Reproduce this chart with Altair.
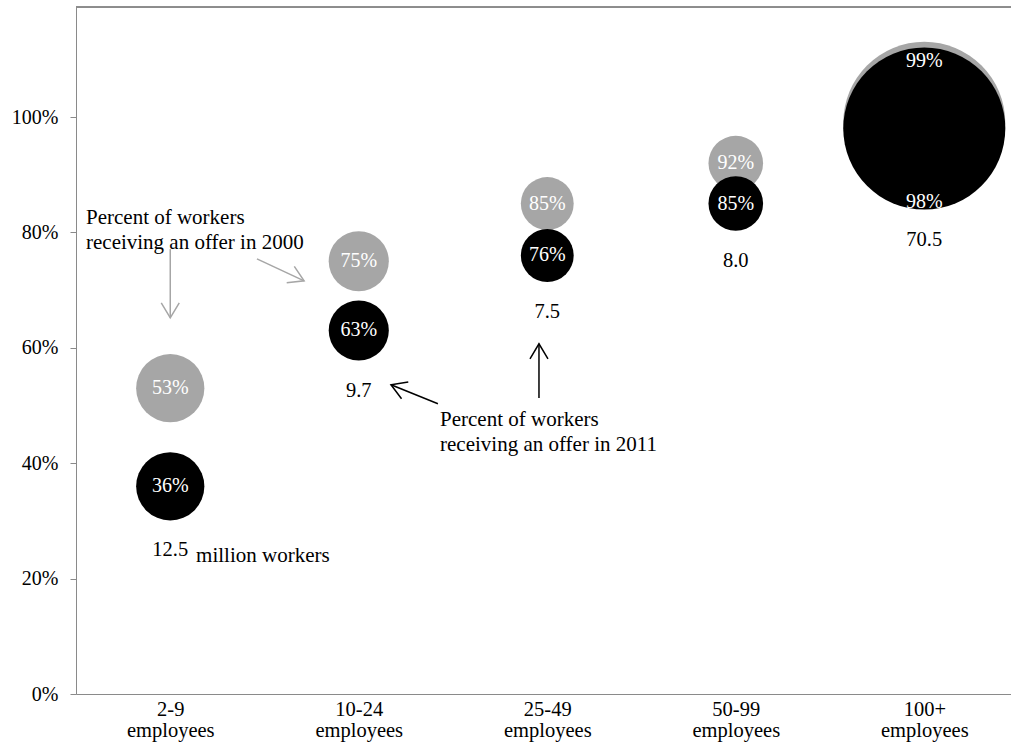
import json
import altair as alt
import pandas as pd

# ---- data ----
categories = ["2-9 employees", "10-24 employees", "25-49 employees", "50-99 employees", "100+ employees"]
pct_2000 = [0.53, 0.75, 0.85, 0.92, 0.99]
pct_2011 = [0.36, 0.63, 0.76, 0.85, 0.98]
workers_millions = [12.5, 9.7, 7.5, 8.0, 70.5]
y_ticks = [0, 0.2, 0.4, 0.6, 0.8, 1.0]

# annotation placement (in data units: x = category index, y = share)
note_2000_text = "Percent of workers\nreceiving an offer in 2000"
note_2000_pos = (-0.447, 0.825)
note_2011_text = "Percent of workers\nreceiving an offer in 2011"
note_2011_pos = (1.431, 0.475)
unit_text = "million workers"
unit_pos = (0.137, 0.239)

gray_arrows_x = [0.0, 0.460]
gray_arrows_y = [0.771, 0.754]
gray_arrows_x2 = [0.0, 0.710]
gray_arrows_y2 = [0.652, 0.716]
gray_arrows_angle = [180, 115]

black_arrows_x = [1.420, 1.956]
black_arrows_y = [0.503, 0.513]
black_arrows_x2 = [1.171, 1.956]
black_arrows_y2 = [0.536, 0.607]
black_arrows_angle = [292, 0]

# ---- styling ----
FONT = "Liberation Serif"
GRAY = "#a6a6a6"
AXIS_GRAY = "#8a8a8a"
W, H = 935, 687
PX_PER_UNIT = 577.0  # pixels per 100%
SIZE_PER_MILLION = 372.5  # Vega symbol size (diameter^2) per million workers

df = pd.DataFrame({
    "idx": list(range(len(categories))),
    "category": categories,
    "p2000": pct_2000,
    "p2011": pct_2011,
    "workers": workers_millions,
})

label_lines = json.dumps([c.split(" ") for c in categories])

x_scale = alt.Scale(domain=[-0.5, 4.46], nice=False, zero=False)
y_scale = alt.Scale(domain=[0, H / PX_PER_UNIT], nice=False, zero=True)
size_scale = alt.Scale(type="linear", domain=[0, max(workers_millions)],
                       range=[0, SIZE_PER_MILLION * max(workers_millions)])

x_axis = alt.Axis(values=list(range(len(categories))), labelExpr=f"{label_lines}[datum.value]",
                  title=None, ticks=False, grid=False, domainColor=AXIS_GRAY,
                  labelFont=FONT, labelFontSize=20.5, labelColor="black",
                  labelLineHeight=21, labelPadding=5, labelAngle=0)
y_axis = alt.Axis(values=y_ticks, format=".0%", title=None, grid=False,
                  domainColor=AXIS_GRAY, tickColor=AXIS_GRAY, tickSize=6,
                  labelFont=FONT, labelFontSize=20, labelColor="black", labelPadding=12)


def X(field):
    return alt.X(f"{field}:Q", scale=x_scale, axis=x_axis)


def Y(field):
    return alt.Y(f"{field}:Q", scale=y_scale, axis=y_axis)


base = alt.Chart(df)
size_enc = alt.Size("workers:Q", scale=size_scale, legend=None)

gray_circles = base.mark_circle(color=GRAY, opacity=1).encode(x=X("idx"), y=Y("p2000"), size=size_enc)
gray_labels = base.transform_filter("datum.idx < 4").mark_text(
    color="white", font=FONT, fontSize=20, baseline="middle").encode(
    x=X("idx"), y=Y("p2000"), text=alt.Text("p2000:Q", format=".0%"))
gray_label_big = base.transform_filter("datum.idx == 4").mark_text(
    color="white", font=FONT, fontSize=20, baseline="middle", dy=-62).encode(
    x=X("idx"), y=Y("p2000"), text=alt.Text("p2000:Q", format=".0%"))

black_circles = base.mark_circle(color="black", opacity=1).encode(x=X("idx"), y=Y("p2011"), size=size_enc)
black_labels = base.transform_filter("datum.idx < 4").mark_text(
    color="white", font=FONT, fontSize=20, baseline="middle").encode(
    x=X("idx"), y=Y("p2011"), text=alt.Text("p2011:Q", format=".0%"))
black_label_big = base.transform_filter("datum.idx == 4").mark_text(
    color="white", font=FONT, fontSize=20, baseline="middle", dy=73).encode(
    x=X("idx"), y=Y("p2011"), text=alt.Text("p2011:Q", format=".0%"))

# worker counts sit ~30px below the edge of each 2011 bubble
worker_labels = base.transform_calculate(
    ylab=f"datum.p2011 - (sqrt({SIZE_PER_MILLION} * datum.workers) / 2 + 30) / {PX_PER_UNIT}"
).mark_text(color="black", font=FONT, fontSize=20.5, baseline="middle").encode(
    x=X("idx"), y=Y("ylab"), text=alt.Text("workers:Q", format=".1f"))

notes_df = pd.DataFrame({
    "x": [note_2000_pos[0], note_2011_pos[0]],
    "y": [note_2000_pos[1], note_2011_pos[1]],
    "t": [note_2000_text, note_2011_text],
})
notes = alt.Chart(notes_df).mark_text(
    color="black", font=FONT, fontSize=21, align="left", baseline="middle",
    lineBreak="\n", lineHeight=25).encode(x=X("x"), y=Y("y"), text="t:N")

unit_df = pd.DataFrame({"x": [unit_pos[0]], "y": [unit_pos[1]], "t": [unit_text]})
unit = alt.Chart(unit_df).mark_text(
    color="black", font=FONT, fontSize=21, align="left", baseline="middle").encode(
    x=X("x"), y=Y("y"), text="t:N")

HEAD = "M -0.6 1 L 0 0 L 0.6 1"


def arrows(xs, ys, x2s, y2s, angles, color):
    d = pd.DataFrame({"x": xs, "y": ys, "x2": x2s, "y2": y2s, "a": angles})
    c = alt.Chart(d)
    shaft = c.mark_rule(color=color, strokeWidth=1.5).encode(
        x=X("x"), y=Y("y"), x2="x2:Q", y2="y2:Q")
    head = c.mark_point(shape=HEAD, filled=False, color=color, strokeWidth=1.5,
                        size=900, opacity=1).encode(
        x=X("x2"), y=Y("y2"), angle=alt.Angle("a:Q", scale=None))
    return [shaft, head]


frame_top = alt.Chart(df).mark_rule(color=AXIS_GRAY, strokeWidth=1).encode(
    x=alt.value(0), x2=alt.value(W), y=alt.value(0))

chart = alt.layer(
    frame_top,
    gray_circles, gray_labels,
    black_circles, gray_label_big, black_labels, black_label_big,
    worker_labels, notes, unit,
    *arrows(gray_arrows_x, gray_arrows_y, gray_arrows_x2, gray_arrows_y2, gray_arrows_angle, GRAY),
    *arrows(black_arrows_x, black_arrows_y, black_arrows_x2, black_arrows_y2, black_arrows_angle, "black"),
).properties(
    width=W, height=H,
    autosize=alt.AutoSizeParams(type="none"),
    padding={"left": 76, "top": 7, "right": 0, "bottom": 55},
).configure_view(stroke=None).configure(background="white", font=FONT)

chart.save("out.html", embed_options={"renderer": "svg", "actions": False})
